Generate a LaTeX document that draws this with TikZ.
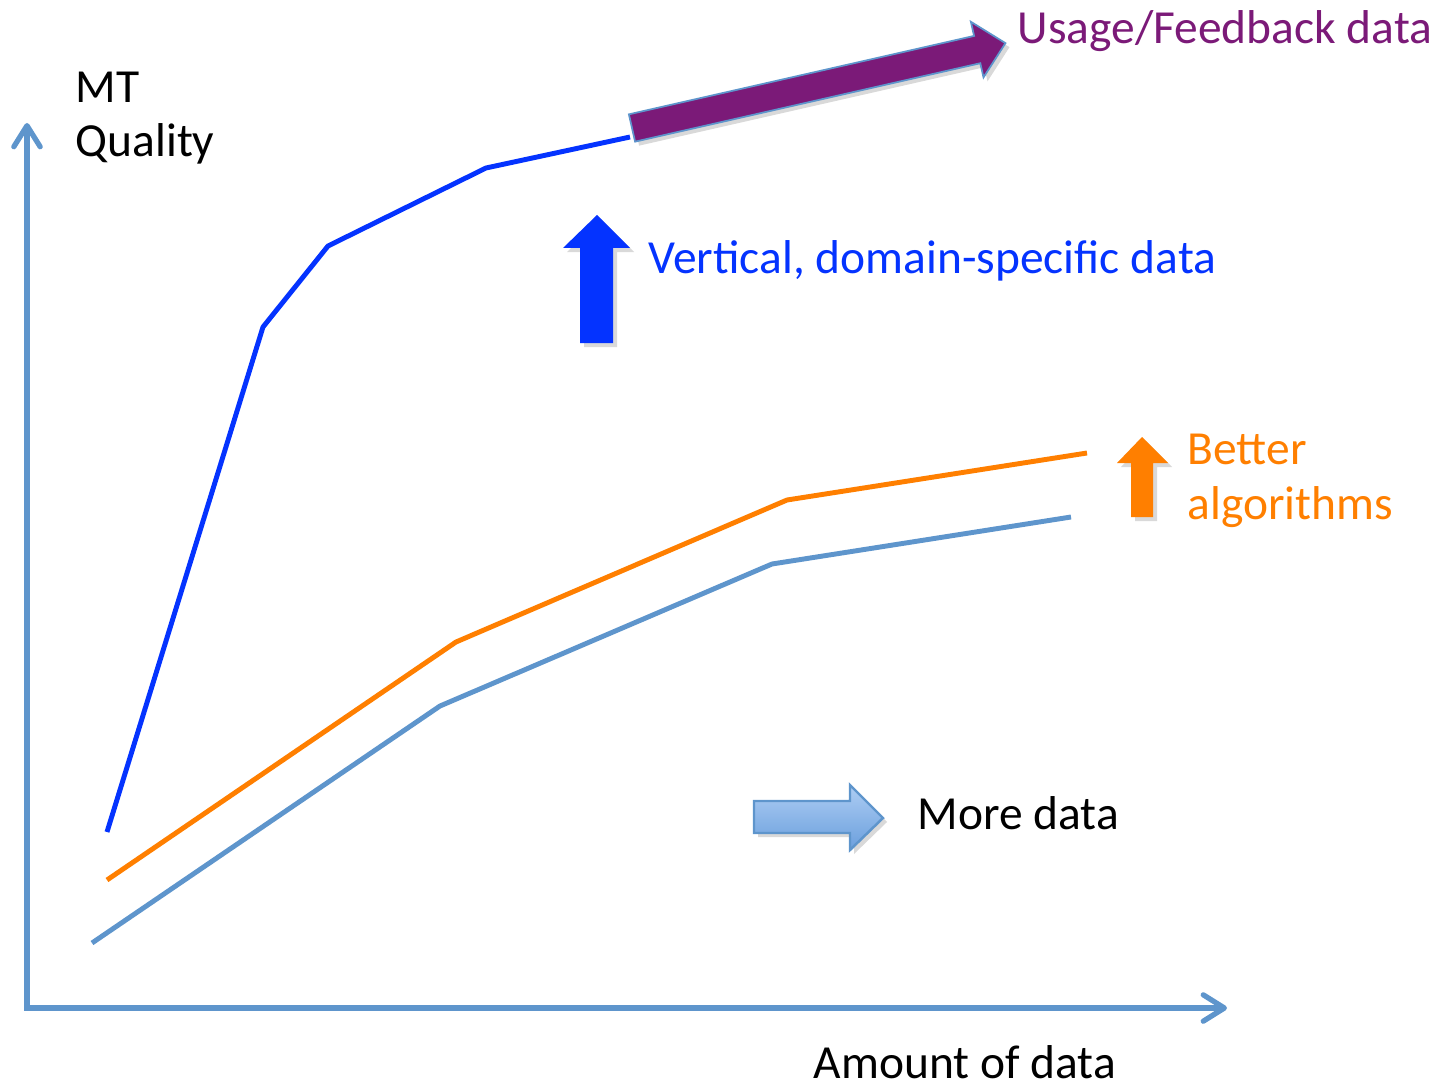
\documentclass[tikz,border=0pt]{standalone}
\usepackage{fontspec}
\setmainfont{Carlito}
\usetikzlibrary{arrows.meta,shadows}
\definecolor{axisblue}{HTML}{5E95CC}
\definecolor{vertblue}{HTML}{0433FF}
\definecolor{algorange}{HTML}{FF7F00}
\definecolor{usagepurple}{HTML}{7B1A78}
\definecolor{moretop}{HTML}{ADCDF3}
\definecolor{morebot}{HTML}{6B9FDD}
\begin{document}
\begin{tikzpicture}[x=0.01cm, y=-0.01cm]
	\tikzset{>={Straight Barb[length=6pt,width=7.5pt,round]}}
	\tikzset{lbl/.style={anchor=base west, inner sep=0pt, align=left, font=\fontsize{13.5}{15.4}\selectfont}}
	\tikzset{curve/.style={line width=1.4pt, line join=round}}
	\tikzset{blockshadow/.style={drop shadow={opacity=0.3, shadow xshift=0.4mm, shadow yshift=-0.4mm}}}
	\useasboundingbox (0,0) rectangle (1439,1085);
	% axes
	\coordinate (origin) at (27,1008);
	\coordinate (ytip) at (27,123);
	\coordinate (xtip) at (1227,1008);
	\draw[axisblue, line width=1.5pt, <->] (ytip) -- (origin) -- (xtip);
	% curves
	\draw[curve, vertblue] (107,832) -- (263,327) -- (328,246) -- (486,168) -- (630,137);
	\draw[curve, algorange] (107,880) -- (456,642) -- (787,500) -- (1087,453);
	\draw[curve, axisblue] (92,943) -- (440,706) -- (772,564) -- (1071,517);
	% block arrows
	\begin{scope}[shift={(632,128)}, rotate=12.8]
	\filldraw[usagepurple, draw=axisblue, line width=0.5pt, blockshadow] (0,-14) -- (354,-14) -- (354,-28.5) -- (383,0) -- (354,28.5) -- (354,14) -- (0,14) -- cycle;
	\end{scope}
	\fill[vertblue, blockshadow] (580,343) -- (580,248) -- (563,248) -- (597,215) -- (630,248) -- (613,248) -- (613,343) -- cycle;
	\fill[algorange, blockshadow] (1131,517) -- (1131,463) -- (1117,463) -- (1142,437) -- (1168,463) -- (1153,463) -- (1153,517) -- cycle;
	\draw[axisblue, line width=0.7pt, top color=moretop, bottom color=morebot, blockshadow] (754,801) -- (850,801) -- (850,785) -- (883,818) -- (850,850) -- (850,833) -- (754,833) -- cycle;
	% labels
	\node[lbl] (quality) at (75,157) {MT\\Quality};
	\node[lbl, usagepurple] (usage) at (1017,44) {Usage/Feedback data};
	\node[lbl, vertblue] (vertical) at (648,274) {Vertical, domain-specific data};
	\node[lbl, algorange] (better) at (1187,519) {Better\\algorithms};
	\node[lbl] (more) at (917,829) {More data};
	\node[lbl] (amount) at (813,1078) {Amount of data};
\end{tikzpicture}
\end{document}
